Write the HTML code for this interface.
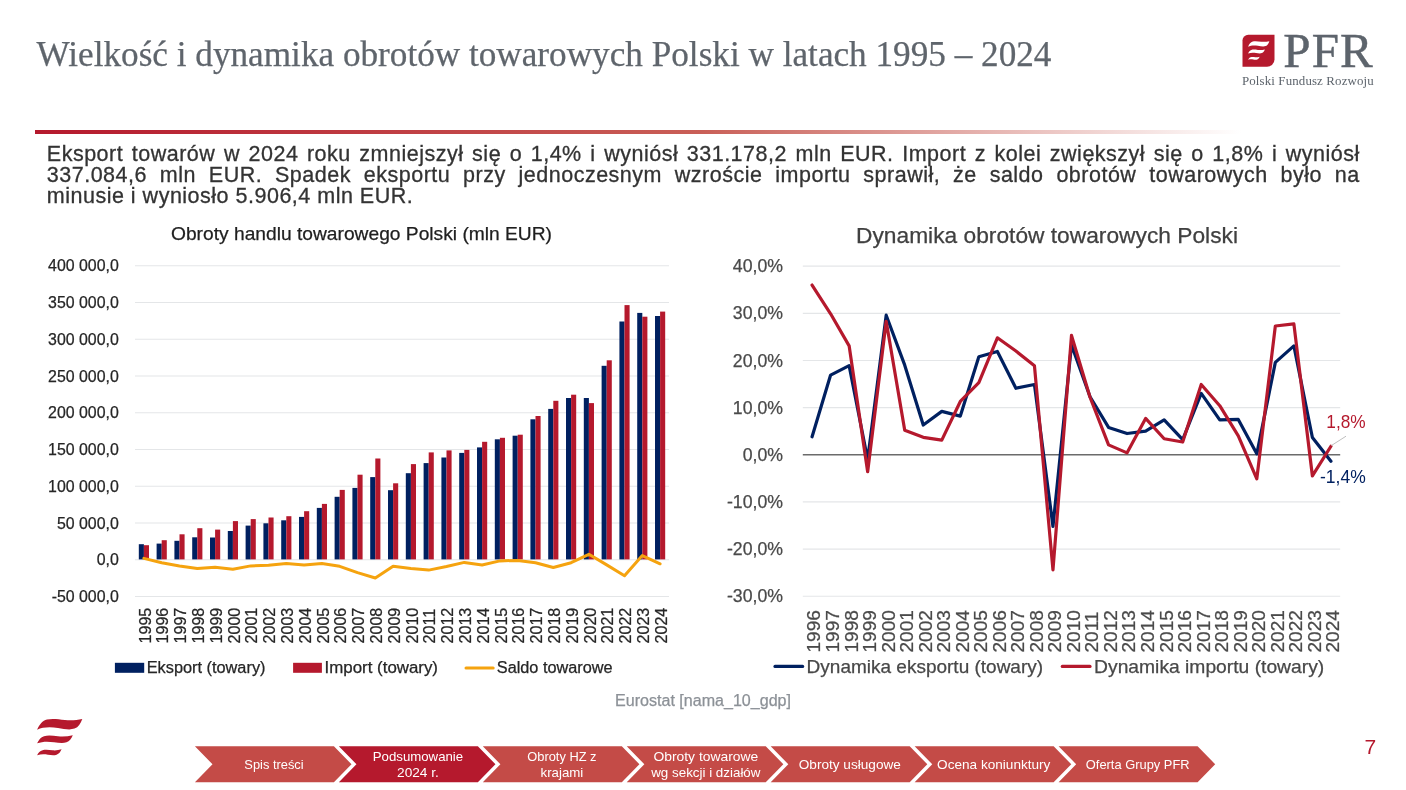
<!DOCTYPE html>
<html lang="pl">
<head>
<meta charset="utf-8">
<title>Wielkość i dynamika obrotów towarowych Polski w latach 1995 – 2024</title>
<style>
html,body{margin:0;padding:0;background:#fff}
body{width:1406px;height:790px;position:relative;overflow:hidden;font-family:"Liberation Sans",sans-serif}
.title{position:absolute;left:36.5px;top:35.2px;margin:0;font:normal 35.2px/40px "Liberation Serif",serif;color:#5f656c;white-space:nowrap;-webkit-text-stroke:.25px #5f656c}
.rule{position:absolute;left:35px;top:130px;width:1206px;height:4px;background:linear-gradient(90deg,#b5192d 0%,#c95f57 55.4%,#fff 100%)}
.lead{position:absolute;left:46.8px;top:143.7px;margin:0;width:1313px;font-size:21.5px;line-height:20.9px;color:#333;letter-spacing:.5px;-webkit-text-stroke:.3px #333}
.lead span{display:block;white-space:nowrap;text-align:justify;text-align-last:justify}
.lead span.last{width:365px}
.logo{position:absolute;left:1242px;top:30px;width:140px;height:60px;color:#5d646c;font-family:"Liberation Serif",serif}
.logo svg{position:absolute;left:0;top:4px}
.logo .pfr{position:absolute;left:41.2px;top:-7.5px;font-size:49px;line-height:56px;letter-spacing:1.2px;white-space:nowrap;-webkit-text-stroke:.45px #5d646c}
.logo .sub{position:absolute;left:0px;top:43.3px;font-size:12.9px;line-height:16px;letter-spacing:.13px;white-space:nowrap}
.charts{position:absolute;left:0;top:0}
</style>
</head>
<body>
<h1 class="title">Wielkość i dynamika obrotów towarowych Polski w latach 1995 – 2024</h1>
<div class="logo">
<svg width="34" height="34" viewBox="-0.5 -0.7 34 34"><path d="M5.8,0 H32 V24.6 A7.4,7.4 0 0 1 24.6,32 H0 V5.8 A5.8,5.8 0 0 1 5.8,0 Z" fill="#b5192d"/><path transform="translate(5.6 6.45) scale(.47 .51) translate(-37.1 -718.9)" d="M37.1,729.7 C39.5,724.5 42.5,720.8 47,719.6 C52,718.2 58,719.2 65,719.9 C71,720.5 77,720 82.3,718.9 C80.5,723.5 78.5,727 74.5,728.6 C70,730.2 64,729 58,728 C51,726.8 43,726.8 37.1,729.7 Z M37.1,743.3 C38.8,739.8 40.8,737.2 44,736.2 C48,734.9 53,735.7 58,736.2 C63,736.7 68,736.3 72.8,735.2 C71.2,738.8 69.6,741.2 66.5,742.3 C63,743.5 58.5,742.8 54,742.2 C48.5,741.4 42.5,741.2 37.1,743.3 Z M37.1,755.3 C38.3,752.7 40,751 42.6,750.3 C45.5,749.5 49,750 52.5,750.3 C55.5,750.6 58.6,750.2 61.6,749.3 C60.4,752 59,753.8 56.6,754.7 C54,755.6 51,755.2 48,754.7 C44.3,754.1 40.7,754 37.1,755.3 Z" fill="#fff"/></svg>
<span class="pfr">PFR</span>
<span class="sub">Polski Fundusz Rozwoju</span>
</div>
<div class="rule"></div>
<p class="lead"><span>Eksport towarów w 2024 roku zmniejszył się o 1,4% i wyniósł 331.178,2 mln EUR. Import z kolei zwiększył się o 1,8% i wyniósł</span><span>337.084,6 mln EUR. Spadek eksportu przy jednoczesnym wzroście importu sprawił, że saldo obrotów towarowych było na</span><span class="last">minusie i wyniosło 5.906,4 mln EUR.</span></p>
<svg class="charts" width="1406" height="790" viewBox="0 0 1406 790" font-family="Liberation Sans, sans-serif">
<g class="chart-left">
<text x="171" y="240" font-size="19" fill="#1f1f1f" stroke="#1f1f1f" stroke-width=".25" textLength="381" lengthAdjust="spacingAndGlyphs">Obroty handlu towarowego Polski (mln EUR)</text>
<g stroke="#e4e6e8" stroke-width="1.15">
<line x1="135" y1="265.7" x2="669" y2="265.7"/>
<line x1="135" y1="302.46" x2="669" y2="302.46"/>
<line x1="135" y1="339.22" x2="669" y2="339.22"/>
<line x1="135" y1="375.98" x2="669" y2="375.98"/>
<line x1="135" y1="412.74" x2="669" y2="412.74"/>
<line x1="135" y1="449.5" x2="669" y2="449.5"/>
<line x1="135" y1="486.26" x2="669" y2="486.26"/>
<line x1="135" y1="523.02" x2="669" y2="523.02"/>
<line x1="135" y1="559.78" x2="669" y2="559.78"/>
<line x1="135" y1="596.54" x2="669" y2="596.54"/>
</g>
<g font-size="15.9" fill="#262626" stroke="#262626" stroke-width=".25" text-anchor="end">
<text x="118.8" y="271.4">400 000,0</text>
<text x="118.8" y="308.16">350 000,0</text>
<text x="118.8" y="344.92">300 000,0</text>
<text x="118.8" y="381.68">250 000,0</text>
<text x="118.8" y="418.44">200 000,0</text>
<text x="118.8" y="455.2">150 000,0</text>
<text x="118.8" y="491.96">100 000,0</text>
<text x="118.8" y="528.72">50 000,0</text>
<text x="118.8" y="565.48">0,0</text>
<text x="118.8" y="602.24">-50 000,0</text>
</g>
<g class="bars-export" fill="#002060">
<rect x="138.81" y="544.2" width="5.09" height="15.2"/>
<rect x="156.61" y="543.6" width="5.09" height="15.8"/>
<rect x="174.41" y="540.8" width="5.09" height="18.6"/>
<rect x="192.21" y="537.3" width="5.09" height="22.1"/>
<rect x="210.01" y="537.5" width="5.09" height="21.9"/>
<rect x="227.81" y="531" width="5.09" height="28.4"/>
<rect x="245.61" y="525.6" width="5.09" height="33.8"/>
<rect x="263.41" y="523.3" width="5.09" height="36.1"/>
<rect x="281.21" y="520.3" width="5.09" height="39.1"/>
<rect x="299.01" y="516.9" width="5.09" height="42.5"/>
<rect x="316.81" y="507.9" width="5.09" height="51.5"/>
<rect x="334.61" y="496.8" width="5.09" height="62.6"/>
<rect x="352.41" y="487.9" width="5.09" height="71.5"/>
<rect x="370.21" y="477.1" width="5.09" height="82.3"/>
<rect x="388.01" y="490.2" width="5.09" height="69.2"/>
<rect x="405.81" y="473.2" width="5.09" height="86.2"/>
<rect x="423.61" y="463.1" width="5.09" height="96.3"/>
<rect x="441.41" y="457.5" width="5.09" height="101.9"/>
<rect x="459.21" y="452.9" width="5.09" height="106.5"/>
<rect x="477.01" y="447.4" width="5.09" height="112"/>
<rect x="494.81" y="439.3" width="5.09" height="120.1"/>
<rect x="512.61" y="435.7" width="5.09" height="123.7"/>
<rect x="530.41" y="419.3" width="5.09" height="140.1"/>
<rect x="548.21" y="408.9" width="5.09" height="150.5"/>
<rect x="566.01" y="398" width="5.09" height="161.4"/>
<rect x="583.81" y="398" width="5.09" height="161.4"/>
<rect x="601.61" y="365.8" width="5.09" height="193.6"/>
<rect x="619.41" y="321.5" width="5.09" height="237.9"/>
<rect x="637.21" y="312.9" width="5.09" height="246.5"/>
<rect x="655.01" y="316" width="5.09" height="243.4"/>
</g>
<g class="bars-import" fill="#b5192d">
<rect x="143.9" y="545.2" width="5.09" height="14.2"/>
<rect x="161.7" y="540.2" width="5.09" height="19.2"/>
<rect x="179.5" y="534.3" width="5.09" height="25.1"/>
<rect x="197.3" y="528.2" width="5.09" height="31.2"/>
<rect x="215.1" y="529.6" width="5.09" height="29.8"/>
<rect x="232.9" y="521.1" width="5.09" height="38.3"/>
<rect x="250.7" y="519.1" width="5.09" height="40.3"/>
<rect x="268.5" y="517.5" width="5.09" height="41.9"/>
<rect x="286.3" y="516.2" width="5.09" height="43.2"/>
<rect x="304.1" y="511.2" width="5.09" height="48.2"/>
<rect x="321.9" y="503.9" width="5.09" height="55.5"/>
<rect x="339.7" y="489.9" width="5.09" height="69.5"/>
<rect x="357.5" y="474.7" width="5.09" height="84.7"/>
<rect x="375.3" y="458.5" width="5.09" height="100.9"/>
<rect x="393.1" y="483.3" width="5.09" height="76.1"/>
<rect x="410.9" y="464.1" width="5.09" height="95.3"/>
<rect x="428.7" y="452.4" width="5.09" height="107"/>
<rect x="446.5" y="450.4" width="5.09" height="109"/>
<rect x="464.3" y="449.9" width="5.09" height="109.5"/>
<rect x="482.1" y="441.8" width="5.09" height="117.6"/>
<rect x="499.9" y="437.8" width="5.09" height="121.6"/>
<rect x="517.7" y="434.7" width="5.09" height="124.7"/>
<rect x="535.5" y="416" width="5.09" height="143.4"/>
<rect x="553.3" y="400.8" width="5.09" height="158.6"/>
<rect x="571.1" y="394.7" width="5.09" height="164.7"/>
<rect x="588.9" y="403.1" width="5.09" height="156.3"/>
<rect x="606.7" y="360.3" width="5.09" height="199.1"/>
<rect x="624.5" y="305.1" width="5.09" height="254.3"/>
<rect x="642.3" y="316.7" width="5.09" height="242.7"/>
<rect x="660.1" y="311.6" width="5.09" height="247.8"/>
</g>
<polyline points="143.9,558.4 161.7,562.8 179.5,565.9 197.3,568.5 215.1,567.3 232.9,569.3 250.7,565.9 268.5,565.2 286.3,563.5 304.1,565.1 321.9,563.4 339.7,566.3 357.5,572.6 375.3,578 393.1,566.3 410.9,568.5 428.7,570.1 446.5,566.5 464.3,562.4 482.1,565 499.9,560.9 517.7,560.4 535.5,562.7 553.3,567.5 571.1,562.7 588.9,554.3 606.7,564.9 624.5,575.8 642.3,555.6 660.1,563.8" fill="none" stroke="#f5a30f" stroke-width="3" stroke-linejoin="round" stroke-linecap="round"/>
<g font-size="16.1" fill="#262626" stroke="#262626" stroke-width=".25">
<text transform="translate(150.6 643.5) rotate(-90)">1995</text>
<text transform="translate(168.4 643.5) rotate(-90)">1996</text>
<text transform="translate(186.2 643.5) rotate(-90)">1997</text>
<text transform="translate(204 643.5) rotate(-90)">1998</text>
<text transform="translate(221.8 643.5) rotate(-90)">1999</text>
<text transform="translate(239.6 643.5) rotate(-90)">2000</text>
<text transform="translate(257.4 643.5) rotate(-90)">2001</text>
<text transform="translate(275.2 643.5) rotate(-90)">2002</text>
<text transform="translate(293 643.5) rotate(-90)">2003</text>
<text transform="translate(310.8 643.5) rotate(-90)">2004</text>
<text transform="translate(328.6 643.5) rotate(-90)">2005</text>
<text transform="translate(346.4 643.5) rotate(-90)">2006</text>
<text transform="translate(364.2 643.5) rotate(-90)">2007</text>
<text transform="translate(382 643.5) rotate(-90)">2008</text>
<text transform="translate(399.8 643.5) rotate(-90)">2009</text>
<text transform="translate(417.6 643.5) rotate(-90)">2010</text>
<text transform="translate(435.4 643.5) rotate(-90)">2011</text>
<text transform="translate(453.2 643.5) rotate(-90)">2012</text>
<text transform="translate(471 643.5) rotate(-90)">2013</text>
<text transform="translate(488.8 643.5) rotate(-90)">2014</text>
<text transform="translate(506.6 643.5) rotate(-90)">2015</text>
<text transform="translate(524.4 643.5) rotate(-90)">2016</text>
<text transform="translate(542.2 643.5) rotate(-90)">2017</text>
<text transform="translate(560 643.5) rotate(-90)">2018</text>
<text transform="translate(577.8 643.5) rotate(-90)">2019</text>
<text transform="translate(595.6 643.5) rotate(-90)">2020</text>
<text transform="translate(613.4 643.5) rotate(-90)">2021</text>
<text transform="translate(631.2 643.5) rotate(-90)">2022</text>
<text transform="translate(649 643.5) rotate(-90)">2023</text>
<text transform="translate(666.8 643.5) rotate(-90)">2024</text>
</g>
<g font-size="15.8" fill="#262626" stroke="#262626" stroke-width=".25">
<rect x="114.9" y="662.8" width="29.3" height="10" fill="#002060" stroke="none"/>
<text x="146.7" y="673.2" textLength="118.8" lengthAdjust="spacingAndGlyphs">Eksport (towary)</text>
<rect x="293.1" y="662.8" width="28.8" height="10" fill="#b5192d" stroke="none"/>
<text x="324.6" y="673.2" textLength="113.4" lengthAdjust="spacingAndGlyphs">Import (towary)</text>
<line x1="466" y1="668" x2="493.2" y2="668" stroke="#f5a30f" stroke-width="3" stroke-linecap="round"/>
<text x="496.8" y="673.2" textLength="115.8" lengthAdjust="spacingAndGlyphs">Saldo towarowe</text>
</g>
</g>
<g class="chart-right">
<text x="856" y="242.6" font-size="22" fill="#404040" stroke="#404040" stroke-width=".25" textLength="382" lengthAdjust="spacingAndGlyphs">Dynamika obrotów towarowych Polski</text>
<g stroke="#e4e6e8" stroke-width="1.15">
<line x1="802.8" y1="266.15" x2="1340.2" y2="266.15"/>
<line x1="802.8" y1="313.3" x2="1340.2" y2="313.3"/>
<line x1="802.8" y1="360.45" x2="1340.2" y2="360.45"/>
<line x1="802.8" y1="407.6" x2="1340.2" y2="407.6"/>
<line x1="802.8" y1="501.9" x2="1340.2" y2="501.9"/>
<line x1="802.8" y1="549.05" x2="1340.2" y2="549.05"/>
<line x1="802.8" y1="596.2" x2="1340.2" y2="596.2"/>
</g>
<line x1="802.8" y1="454.75" x2="1340.2" y2="454.75" stroke="#6b6b6b" stroke-width="1.5"/>
<g font-size="17.7" fill="#4a4a4a" stroke="#4a4a4a" stroke-width=".25" text-anchor="end">
<text x="783" y="272.25">40,0%</text>
<text x="783" y="319.4">30,0%</text>
<text x="783" y="366.55">20,0%</text>
<text x="783" y="413.7">10,0%</text>
<text x="783" y="460.85">0,0%</text>
<text x="783" y="508">-10,0%</text>
<text x="783" y="555.15">-20,0%</text>
<text x="783" y="602.3">-30,0%</text>
</g>
<polyline class="line-export" points="812.07,436.83 830.6,375.07 849.13,365.64 867.66,459.46 886.19,315.19 904.72,365.16 923.25,425.05 941.78,411.37 960.31,416.09 978.84,356.68 997.38,351.49 1015.91,388.27 1034.44,384.5 1052.97,526.42 1071.5,344.89 1090.03,396.76 1108.56,427.4 1127.09,433.53 1145.62,431.18 1164.16,419.86 1182.69,439.66 1201.22,393.45 1219.75,419.86 1238.28,419.39 1256.81,453.81 1275.34,362.34 1293.87,345.83 1312.4,437.54 1330.93,461.35" fill="none" stroke="#002060" stroke-width="3.2" stroke-linejoin="round" stroke-linecap="round"/>
<polyline class="line-import" points="812.07,285.01 830.6,313.77 849.13,345.83 867.66,471.72 886.19,321.32 904.72,430.23 923.25,437.3 941.78,440.13 960.31,401.47 978.84,382.61 997.38,337.82 1015.91,351.02 1034.44,365.64 1052.97,569.8 1071.5,335.46 1090.03,397.23 1108.56,444.85 1127.09,452.86 1145.62,418.44 1164.16,438.72 1182.69,442.02 1201.22,384.5 1219.75,405.71 1238.28,435.89 1256.81,478.8 1275.34,326.03 1293.87,323.91 1312.4,475.97 1330.93,446.26" fill="none" stroke="#b5192d" stroke-width="3.2" stroke-linejoin="round" stroke-linecap="round"/>
<line x1="1331.3" y1="445.6" x2="1346" y2="436.2" stroke="#bfbfbf" stroke-width="1"/>
<text x="1326.3" y="427.5" font-size="17.7" fill="#b5192d" textLength="39.4" lengthAdjust="spacingAndGlyphs">1,8%</text>
<text x="1320" y="482.5" font-size="17.7" fill="#002060" textLength="45.7" lengthAdjust="spacingAndGlyphs">-1,4%</text>
<g font-size="19.1" fill="#4a4a4a" stroke="#4a4a4a" stroke-width=".25">
<text transform="translate(820.47 652.6) rotate(-90)">1996</text>
<text transform="translate(839 652.6) rotate(-90)">1997</text>
<text transform="translate(857.53 652.6) rotate(-90)">1998</text>
<text transform="translate(876.06 652.6) rotate(-90)">1999</text>
<text transform="translate(894.59 652.6) rotate(-90)">2000</text>
<text transform="translate(913.12 652.6) rotate(-90)">2001</text>
<text transform="translate(931.65 652.6) rotate(-90)">2002</text>
<text transform="translate(950.18 652.6) rotate(-90)">2003</text>
<text transform="translate(968.71 652.6) rotate(-90)">2004</text>
<text transform="translate(987.24 652.6) rotate(-90)">2005</text>
<text transform="translate(1005.78 652.6) rotate(-90)">2006</text>
<text transform="translate(1024.31 652.6) rotate(-90)">2007</text>
<text transform="translate(1042.84 652.6) rotate(-90)">2008</text>
<text transform="translate(1061.37 652.6) rotate(-90)">2009</text>
<text transform="translate(1079.9 652.6) rotate(-90)">2010</text>
<text transform="translate(1098.43 652.6) rotate(-90)">2011</text>
<text transform="translate(1116.96 652.6) rotate(-90)">2012</text>
<text transform="translate(1135.49 652.6) rotate(-90)">2013</text>
<text transform="translate(1154.02 652.6) rotate(-90)">2014</text>
<text transform="translate(1172.56 652.6) rotate(-90)">2015</text>
<text transform="translate(1191.09 652.6) rotate(-90)">2016</text>
<text transform="translate(1209.62 652.6) rotate(-90)">2017</text>
<text transform="translate(1228.15 652.6) rotate(-90)">2018</text>
<text transform="translate(1246.68 652.6) rotate(-90)">2019</text>
<text transform="translate(1265.21 652.6) rotate(-90)">2020</text>
<text transform="translate(1283.74 652.6) rotate(-90)">2021</text>
<text transform="translate(1302.27 652.6) rotate(-90)">2022</text>
<text transform="translate(1320.8 652.6) rotate(-90)">2023</text>
<text transform="translate(1339.33 652.6) rotate(-90)">2024</text>
</g>
<g font-size="18.4" fill="#484848" stroke="#484848" stroke-width=".25">
<line x1="775" y1="666.4" x2="802.6" y2="666.4" stroke="#002060" stroke-width="3.2" stroke-linecap="round"/>
<text x="806.6" y="672.6" textLength="236.5" lengthAdjust="spacingAndGlyphs">Dynamika eksportu (towary)</text>
<line x1="1062.3" y1="666.4" x2="1090" y2="666.4" stroke="#b5192d" stroke-width="3.2" stroke-linecap="round"/>
<text x="1094.1" y="672.6" textLength="230.1" lengthAdjust="spacingAndGlyphs">Dynamika importu (towary)</text>
</g>
</g>
<text x="615" y="706.4" font-size="15.8" fill="#8c9197" stroke="#8c9197" stroke-width=".25" textLength="176" lengthAdjust="spacingAndGlyphs">Eurostat [nama_10_gdp]</text>
<path class="waves" d="M37.1,729.7 C39.5,724.5 42.5,720.8 47,719.6 C52,718.2 58,719.2 65,719.9 C71,720.5 77,720 82.3,718.9 C80.5,723.5 78.5,727 74.5,728.6 C70,730.2 64,729 58,728 C51,726.8 43,726.8 37.1,729.7 Z M37.1,743.3 C38.8,739.8 40.8,737.2 44,736.2 C48,734.9 53,735.7 58,736.2 C63,736.7 68,736.3 72.8,735.2 C71.2,738.8 69.6,741.2 66.5,742.3 C63,743.5 58.5,742.8 54,742.2 C48.5,741.4 42.5,741.2 37.1,743.3 Z M37.1,755.3 C38.3,752.7 40,751 42.6,750.3 C45.5,749.5 49,750 52.5,750.3 C55.5,750.6 58.6,750.2 61.6,749.3 C60.4,752 59,753.8 56.6,754.7 C54,755.6 51,755.2 48,754.7 C44.3,754.1 40.7,754 37.1,755.3 Z" fill="#b5192d"/>
<g class="nav" font-size="13.2" fill="#fff" text-anchor="middle">
<polygon points="194.9,746.2 333.9,746.2 351.5,764.25 333.9,782.3 194.9,782.3 212.5,764.25" fill="#c44b47"/>
<text x="274" y="768.95" textLength="59.3" lengthAdjust="spacingAndGlyphs">Spis treści</text>
<polygon points="338.85,746.2 477.85,746.2 495.45,764.25 477.85,782.3 338.85,782.3 356.45,764.25" fill="#b5192d"/>
<text x="417.95" y="760.85" textLength="90.4" lengthAdjust="spacingAndGlyphs">Podsumowanie</text>
<text x="417.95" y="776.85" textLength="41.8" lengthAdjust="spacingAndGlyphs">2024 r.</text>
<polygon points="482.8,746.2 621.8,746.2 639.4,764.25 621.8,782.3 482.8,782.3 500.4,764.25" fill="#c44b47"/>
<text x="561.9" y="760.85" textLength="69.2" lengthAdjust="spacingAndGlyphs">Obroty HZ z</text>
<text x="561.9" y="776.85" textLength="42.8" lengthAdjust="spacingAndGlyphs">krajami</text>
<polygon points="626.75,746.2 765.75,746.2 783.35,764.25 765.75,782.3 626.75,782.3 644.35,764.25" fill="#c44b47"/>
<text x="705.85" y="760.85" textLength="104.8" lengthAdjust="spacingAndGlyphs">Obroty towarowe</text>
<text x="705.85" y="776.85" textLength="109.3" lengthAdjust="spacingAndGlyphs">wg sekcji i działów</text>
<polygon points="770.7,746.2 909.7,746.2 927.3,764.25 909.7,782.3 770.7,782.3 788.3,764.25" fill="#c44b47"/>
<text x="849.8" y="768.95" textLength="102.1" lengthAdjust="spacingAndGlyphs">Obroty usługowe</text>
<polygon points="914.65,746.2 1053.65,746.2 1071.25,764.25 1053.65,782.3 914.65,782.3 932.25,764.25" fill="#c44b47"/>
<text x="993.75" y="768.95" textLength="113.3" lengthAdjust="spacingAndGlyphs">Ocena koniunktury</text>
<polygon points="1058.6,746.2 1197.6,746.2 1215.2,764.25 1197.6,782.3 1058.6,782.3 1076.2,764.25" fill="#c44b47"/>
<text x="1137.7" y="768.95" textLength="103.8" lengthAdjust="spacingAndGlyphs">Oferta Grupy PFR</text>
</g>
<text x="1364.5" y="754.4" font-size="21" fill="#b5192d">7</text>
</svg>
</body>
</html>
